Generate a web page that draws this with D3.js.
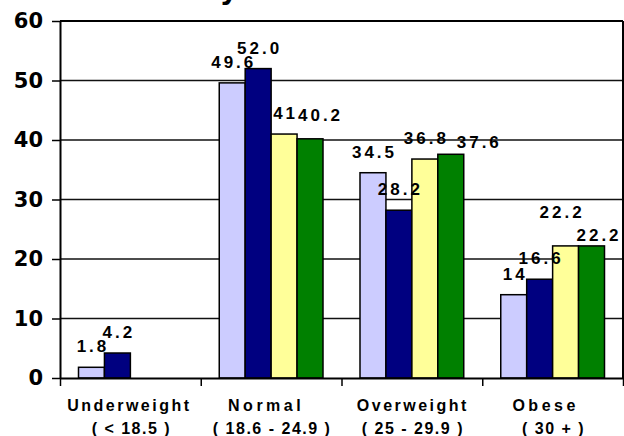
<!DOCTYPE html>
<html>
<head>
<meta charset="utf-8">
<script src="https://cdnjs.cloudflare.com/ajax/libs/d3/7.8.5/d3.min.js"></script>
<style>
  html, body { margin: 0; padding: 0; background: #fff; }
  svg { display: block; }
</style>
</head>
<body>
<svg id="chart" width="624" height="436"></svg>
<script>
// BMI categories and the four survey columns
const categories = ["Underweight", "Normal", "Overweight", "Obese"];
const ranges = ["( < 18.5 )", "( 18.6  -  24.9 )", "( 25 - 29.9 )", "( 30 + )"];
const seriesA = [1.8, 49.6, 34.5, 14];
const seriesB = [4.2, 52.0, 28.2, 16.6];
const seriesC = [null, 41, 36.8, 22.2];
const seriesD = [null, 40.2, 37.6, 22.2];
// decimals shown in each value label
const decimalsA = [1, 1, 1, 0];
const decimalsB = [1, 1, 1, 1];
const decimalsC = [null, 0, 1, 1];
const decimalsD = [null, 1, 1, 1];
const yTicks = [0, 10, 20, 30, 40, 50, 60];

const series = [
  { key: "A", values: seriesA, decimals: decimalsA, color: "#ccccff" },
  { key: "B", values: seriesB, decimals: decimalsB, color: "#000080" },
  { key: "C", values: seriesC, decimals: decimalsC, color: "#ffff99" },
  { key: "D", values: seriesD, decimals: decimalsD, color: "#008000" }
];

// hand nudges for labels that would otherwise collide
const labelNudge = {
  "D-Normal": [9, -3],
  "D-Overweight": [27, 9],
  "C-Obese": [-5, -13],
  "D-Obese": [6, 10]
};
// small horizontal shifts for the category names
const nameShift = [-2, -6, 0, -8];

const svg = d3.select("#chart");
const plotLeft = 60, plotRight = 623, plotTop = 21, plotBottom = 378;

const x0 = d3.scaleBand().domain(categories).range([plotLeft, plotRight]);
const x1 = d3.scaleBand().domain(series.map(s => s.key))
  .range([18.5, x0.bandwidth() - 18.5]);
const y = d3.scaleLinear().domain([0, 60]).range([plotBottom, plotTop]);

// partially visible title descender above the frame
svg.append("text")
  .attr("x", 229).attr("y", -1)
  .attr("text-anchor", "middle")
  .style("font-family", "DejaVu Sans, Verdana, sans-serif")
  .style("font-weight", "bold")
  .style("font-size", "28px")
  .text("y");

// horizontal gridlines
svg.append("g")
  .selectAll("line")
  .data(yTicks.filter(t => t > 0 && t < 60))
  .join("line")
  .attr("x1", plotLeft).attr("x2", plotRight)
  .attr("y1", d => y(d)).attr("y2", d => y(d))
  .attr("stroke", "#111").attr("stroke-width", 1.3);

// bars
const cells = [];
series.forEach(s => {
  categories.forEach((c, i) => {
    if (s.values[i] != null) {
      cells.push({ s: s.key, cat: c, v: s.values[i], dec: s.decimals[i], color: s.color });
    }
  });
});

svg.append("g")
  .selectAll("rect")
  .data(cells)
  .join("rect")
  .attr("x", d => x0(d.cat) + x1(d.s))
  .attr("y", d => y(d.v))
  .attr("width", x1.bandwidth())
  .attr("height", d => y(0) - y(d.v))
  .attr("fill", d => d.color)
  .attr("stroke", "#000")
  .attr("stroke-width", 1.5);

// frame: top and right edges
svg.append("line").attr("x1", plotLeft).attr("x2", plotRight).attr("y1", y(60)).attr("y2", y(60))
  .attr("stroke", "#000").attr("stroke-width", 2);
svg.append("line").attr("x1", plotRight).attr("x2", plotRight).attr("y1", y(60)).attr("y2", y(0))
  .attr("stroke", "#000").attr("stroke-width", 2);

// y axis
const yAxis = svg.append("g")
  .attr("transform", `translate(${plotLeft},0)`)
  .call(d3.axisLeft(y).tickValues(yTicks).tickSize(8).tickPadding(9).tickSizeOuter(0));
yAxis.select(".domain").attr("stroke", "#000").attr("stroke-width", 2);
yAxis.selectAll(".tick line").attr("stroke", "#000").attr("stroke-width", 1.5);
yAxis.selectAll(".tick text")
  .style("font-family", "DejaVu Sans, Verdana, sans-serif")
  .style("font-weight", "bold")
  .style("font-size", "21px")
  .attr("fill", "#000");

// x axis with ticks at category boundaries
const edge = d3.scaleLinear().domain([0, categories.length]).range([plotLeft, plotRight]);
const xAxis = svg.append("g")
  .attr("transform", `translate(0,${plotBottom})`)
  .call(d3.axisBottom(edge).tickValues(d3.range(categories.length + 1))
    .tickSize(8).tickSizeOuter(0).tickFormat(""));
xAxis.select(".domain").attr("stroke", "#000").attr("stroke-width", 2);
xAxis.selectAll(".tick line").attr("stroke", "#000").attr("stroke-width", 1.5);

// category labels (two lines)
const catLabels = svg.append("g")
  .style("font-family", "Liberation Sans, Arial, sans-serif")
  .style("font-weight", "bold")
  .style("font-size", "16px")
  .attr("fill", "#000");
catLabels.selectAll("text.name")
  .data(categories)
  .join("text")
  .attr("class", "name")
  .attr("x", (d, i) => x0(d) + x0.bandwidth() / 2 + 1 + nameShift[i])
  .attr("y", 411)
  .attr("text-anchor", "middle")
  .style("letter-spacing", (d, i) => (i % 2 ? "3.5px" : "2.5px"))
  .text(d => d);
catLabels.selectAll("text.range")
  .data(ranges)
  .join("text")
  .attr("class", "range")
  .attr("x", (d, i) => x0(categories[i]) + x0.bandwidth() / 2 + 1)
  .attr("y", 434)
  .attr("text-anchor", "middle")
  .style("letter-spacing", "1.5px")
  .text(d => d);

// value labels above bars
svg.append("g")
  .selectAll("text")
  .data(cells)
  .join("text")
  .attr("x", d => {
    const n = labelNudge[d.s + "-" + d.cat] || [0, 0];
    return x0(d.cat) + x1(d.s) + x1.bandwidth() / 2 + 1.5 + n[0];
  })
  .attr("y", d => {
    const n = labelNudge[d.s + "-" + d.cat] || [0, 0];
    return y(d.v) - 15 + n[1];
  })
  .attr("text-anchor", "middle")
  .style("font-family", "Liberation Sans, Arial, sans-serif")
  .style("font-weight", "bold")
  .style("font-size", "17px")
  .style("letter-spacing", "3px")
  .attr("fill", "#000")
  .text(d => d.v.toFixed(d.dec));
</script>
</body>
</html>
